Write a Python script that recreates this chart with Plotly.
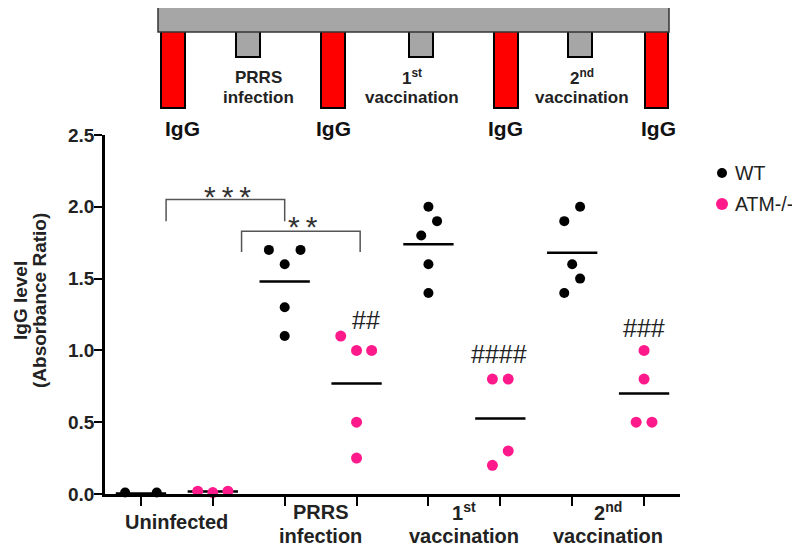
import plotly.graph_objects as go

# ---------------- data ----------------
groups = ["Uninfected", "PRRS infection", "1st vaccination", "2nd vaccination"]
series_names = ["WT", "ATM-/-"]
wt_values = [
    [0.01, -0.01, 0.01],
    [1.7, 1.7, 1.6, 1.3, 1.1],
    [2.0, 1.9, 1.8, 1.6, 1.4],
    [2.0, 1.9, 1.6, 1.5, 1.4],
]
atm_values = [
    [0.02, 0.01, 0.02],
    [1.1, 1.0, 1.0, 0.5, 0.25],
    [0.8, 0.8, 0.3, 0.2],
    [1.0, 0.8, 0.5, 0.5],
]
# horizontal scatter spread (column offsets) of the dots
wt_spread = [
    [-0.22, 0.0, 0.22],
    [-0.22, 0.22, 0.0, 0.0, 0.0],
    [0.0, 0.12, -0.1, 0.0, 0.0],
    [0.11, -0.11, 0.0, 0.11, -0.11],
]
atm_spread = [
    [-0.21, 0.0, 0.21],
    [-0.22, 0.0, 0.21, 0.0, 0.0],
    [-0.11, 0.11, 0.11, -0.11],
    [0.0, 0.0, -0.11, 0.11],
]
hash_labels = ["", "##", "####", "###"]
hash_y = [0, 1.21, 0.975, 1.156]
hash_dx = [0, 0.13, -0.02, 0.0]

FONT = "Arial, Liberation Sans, sans-serif"
PINK = "#ff1a8c"
OFF = 8                       # page body margin
W, H = 800 - OFF, 546 - OFF   # figure size
PL, PR, PT, PB = 105, 680, 135, 494   # plot area in page pixels
ML, MT = PL - OFF, PT - OFF
MR, MB = W - (PR - OFF), H - (PB - OFF)
PW, PH = PR - PL, PB - PT


def X(px):
    return (px - PL) / PW


def Y(py):
    return (PB - py) / PH


def note(x, y, text, size, color="#222222", xref="paper", yref="paper", angle=0, xanchor="center"):
    return dict(x=x, y=y, xref=xref, yref=yref, text=text, showarrow=False,
                xanchor=xanchor, yanchor="middle", textangle=angle,
                font=dict(family=FONT, size=size, color=color))


fig = go.Figure()

wt_x, wt_y, atm_x, atm_y = [], [], [], []
for g in range(len(groups)):
    wpos = 2 * g + 1
    apos = 2 * g + 2
    for v, o in zip(wt_values[g], wt_spread[g]):
        wt_x.append(wpos + o)
        wt_y.append(v)
    for v, o in zip(atm_values[g], atm_spread[g]):
        atm_x.append(apos + o)
        atm_y.append(v)
    for pos, vals in ((wpos, wt_values[g]), (apos, atm_values[g])):
        m = sum(vals) / len(vals)
        fig.add_trace(go.Scatter(x=[pos - 0.35, pos + 0.35], y=[m, m], mode="lines",
                                 line=dict(color="black", width=2.5), showlegend=False,
                                 hoverinfo="skip", cliponaxis=False))

fig.add_trace(go.Scatter(x=wt_x, y=wt_y, mode="markers", name=series_names[0],
                         marker=dict(color="black", size=10), cliponaxis=False, showlegend=False))
fig.add_trace(go.Scatter(x=atm_x, y=atm_y, mode="markers", name=series_names[1],
                         marker=dict(color=PINK, size=11), cliponaxis=False, showlegend=False))

shapes = []
for x0, x1, ytop, yend in ((1.35, 3.0, 2.05, 1.90), (2.4, 4.05, 1.83, 1.685)):
    shapes.append(dict(type="path", xref="x", yref="y",
                       path=f"M {x0},{yend} L {x0},{ytop} L {x1},{ytop} L {x1},{yend}",
                       line=dict(color="#555555", width=1.5)))

# timeline schematic
for a, b in ((161, 185), (321, 345), (494, 518), (645, 668)):
    shapes.append(dict(type="rect", xref="paper", yref="paper", x0=X(a), x1=X(b),
                       y0=Y(108), y1=Y(31), fillcolor="#ff0000",
                       line=dict(color="black", width=2)))
for a, b in ((236, 260), (409, 433), (568, 592)):
    shapes.append(dict(type="rect", xref="paper", yref="paper", x0=X(a), x1=X(b),
                       y0=Y(57), y1=Y(31), fillcolor="#a6a6a6",
                       line=dict(color="black", width=2)))
shapes.append(dict(type="rect", xref="paper", yref="paper", x0=X(158), x1=X(669),
                   y0=Y(32), y1=Y(3), fillcolor="#a6a6a6",
                   line=dict(color="#333333", width=1.5)))

# legend (drawn manually so it does not push the plot margins)
for (cy, r, col) in ((173, 5, "black"), (204, 6, PINK)):
    shapes.append(dict(type="circle", xref="paper", yref="paper",
                       x0=X(722 - r), x1=X(722 + r), y0=Y(cy + r), y1=Y(cy - r),
                       fillcolor=col, line=dict(width=0)))

ann = []
ann.append(note(X(733), Y(173), series_names[0], 19.5, xanchor="left"))
ann.append(note(X(733), Y(204), series_names[1], 19.5, xanchor="left"))

ann.append(note(2.2, 2.07, "*\u2009*\u2009*", 30, "#333333", "x", "y"))
ann.append(note(3.26, 1.86, "*\u2009*", 30, "#333333", "x", "y"))
for g in range(1, 4):
    ann.append(note(2 * g + 2 + hash_dx[g], hash_y[g], hash_labels[g], 25, "#222222", "x", "y"))

lab_lines = [["Uninfected"], ["PRRS", "infection"], ["1<sup>st</sup>", "vaccination"],
             ["2<sup>nd</sup>", "vaccination"]]
for g, lines in enumerate(lab_lines):
    xc = 2 * g + 1.5
    if len(lines) == 1:
        ann.append(note(xc, Y(522), f"<b>{lines[0]}</b>", 20, xref="x"))
    else:
        ann.append(note(xc, Y(512), f"<b>{lines[0]}</b>", 20, xref="x"))
        ann.append(note(xc, Y(536), f"<b>{lines[1]}</b>", 20, xref="x"))

ann.append(note(X(20), Y(301), "<b>IgG level</b>", 19, angle=-90))
ann.append(note(X(39), Y(301), "<b>(Absorbance Ratio)</b>", 19, angle=-90))

top_labels = [(258, "PRRS", "infection"), (412, "1<sup>st</sup>", "vaccination"),
              (582, "2<sup>nd</sup>", "vaccination")]
for cx, l1, l2 in top_labels:
    ann.append(note(X(cx), Y(77), f"<b>{l1}</b>", 17))
    ann.append(note(X(cx), Y(97), f"<b>{l2}</b>", 17))
for cx in (182, 333, 505, 658):
    ann.append(note(X(cx), Y(128), "<b>IgG</b>", 21, "#111111"))

fig.update_layout(
    width=W, height=H, autosize=False,
    margin=dict(l=ML, r=MR, t=MT, b=MB, pad=0),
    paper_bgcolor="white", plot_bgcolor="white",
    shapes=shapes, annotations=ann,
    showlegend=False,
    xaxis=dict(range=[0.5, 8.5], tickvals=list(range(1, 9)), ticktext=[""] * 8,
               ticks="outside", ticklen=9, tickwidth=2, tickcolor="black",
               showline=True, linewidth=2.5, linecolor="black",
               showgrid=False, zeroline=False, fixedrange=True),
    yaxis=dict(range=[0, 2.5], tickvals=[0, 0.5, 1.0, 1.5, 2.0, 2.5], tickformat=".1f",
               ticks="outside", ticklen=8, tickwidth=2, tickcolor="black",
               ticklabelstandoff=-4,
               showline=True, linewidth=2.5, linecolor="black",
               showgrid=False, zeroline=False,
               tickfont=dict(family=FONT, size=19, color="#222222", weight="bold")),
)

fig.write_html("out.html")
